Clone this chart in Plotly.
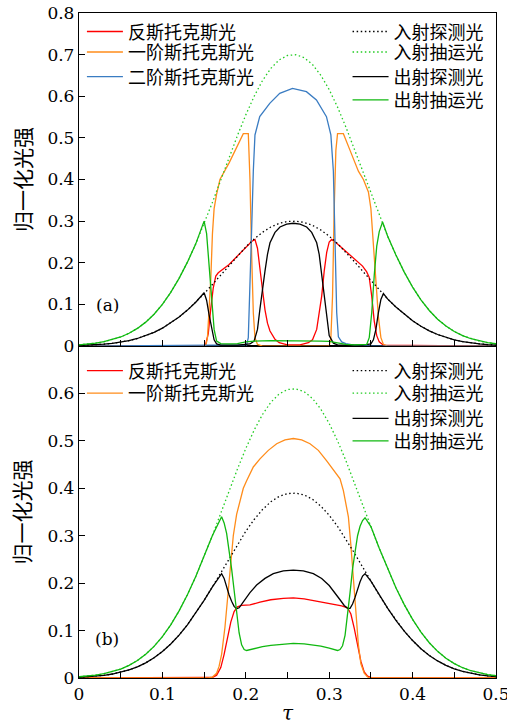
import plotly.graph_objects as go

# ---------------- data ----------------
tau_grid = [0.00, 0.01, 0.02, 0.03, 0.04, 0.05, 0.06, 0.07, 0.08, 0.09,
            0.10, 0.11, 0.12, 0.13, 0.14, 0.15, 0.16, 0.17, 0.18, 0.19,
            0.20, 0.21, 0.22, 0.23, 0.24, 0.25, 0.26, 0.27, 0.28, 0.29,
            0.30, 0.31, 0.32, 0.33, 0.34, 0.35, 0.36, 0.37, 0.38, 0.39,
            0.40, 0.41, 0.42, 0.43, 0.44, 0.45, 0.46, 0.47, 0.48, 0.49, 0.50]

# panel (a) incident pulses
probe_in_a = [0.0013, 0.0020, 0.0030, 0.0044, 0.0065, 0.0093, 0.0131, 0.0181, 0.0246, 0.0328,
              0.0429, 0.0552, 0.0696, 0.0863, 0.1052, 0.1258, 0.1479, 0.1709, 0.1941, 0.2167,
              0.2380, 0.2571, 0.2732, 0.2859, 0.2946, 0.2992, 0.2999, 0.2969, 0.2899, 0.2787,
              0.2639, 0.2459, 0.2255, 0.2033, 0.1802, 0.1571, 0.1345, 0.1132, 0.0936, 0.0761,
              0.0607, 0.0476, 0.0366, 0.0277, 0.0205, 0.0149, 0.0107, 0.0075, 0.0052, 0.0035, 0.0023]
pump_in_a = [0.0029, 0.0046, 0.0069, 0.0103, 0.0151, 0.0217, 0.0306, 0.0423, 0.0574, 0.0765,
             0.1002, 0.1288, 0.1625, 0.2015, 0.2454, 0.2936, 0.3451, 0.3988, 0.4529, 0.5057,
             0.5553, 0.5998, 0.6376, 0.6670, 0.6873, 0.6980, 0.6997, 0.6928, 0.6763, 0.6504,
             0.6159, 0.5739, 0.5261, 0.4743, 0.4205, 0.3665, 0.3139, 0.2642, 0.2185, 0.1775,
             0.1417, 0.1110, 0.0854, 0.0645, 0.0479, 0.0349, 0.0249, 0.0175, 0.0120, 0.0081, 0.0054]

# panel (a) outputs
tau_pump_out_a = [0.00, 0.01, 0.02, 0.03, 0.04, 0.05, 0.06, 0.07, 0.08, 0.09, 0.10, 0.11, 0.12, 0.13, 0.14, 0.15,
                  0.153, 0.156, 0.159, 0.162, 0.165, 0.17, 0.18, 0.19, 0.20, 0.21, 0.23, 0.25, 0.27, 0.29,
                  0.30, 0.31, 0.32, 0.33, 0.345, 0.348, 0.351, 0.354, 0.357, 0.360, 0.364,
                  0.37, 0.38, 0.39, 0.40, 0.41, 0.42, 0.43, 0.44, 0.45, 0.46, 0.47, 0.48, 0.49, 0.50]
pump_out_a = [0.0029, 0.0046, 0.0069, 0.0103, 0.0151, 0.0217, 0.0306, 0.0423, 0.0574, 0.0765, 0.1002, 0.1288, 0.1625, 0.2015, 0.2454, 0.300,
              0.27, 0.20, 0.11, 0.04, 0.012, 0.006, 0.005, 0.006, 0.010, 0.012, 0.013, 0.013, 0.013, 0.012,
              0.011, 0.007, 0.004, 0.003, 0.004, 0.02, 0.08, 0.17, 0.24, 0.275, 0.298,
              0.2642, 0.2185, 0.1775, 0.1417, 0.1110, 0.0854, 0.0645, 0.0479, 0.0349, 0.0249, 0.0175, 0.0120, 0.0081, 0.0054]

tau_probe_out_a = [0.00, 0.01, 0.02, 0.03, 0.04, 0.05, 0.06, 0.07, 0.08, 0.09, 0.10, 0.11, 0.12, 0.13, 0.14, 0.15,
                   0.153, 0.156, 0.159, 0.162, 0.165, 0.17, 0.19, 0.20, 0.205, 0.21, 0.214, 0.217, 0.220, 0.223,
                   0.226, 0.229, 0.235, 0.241, 0.249, 0.257, 0.265, 0.273, 0.279, 0.285, 0.288, 0.291, 0.294,
                   0.297, 0.300, 0.305, 0.31, 0.34, 0.35, 0.353, 0.356, 0.359, 0.362, 0.365,
                   0.37, 0.38, 0.39, 0.40, 0.41, 0.42, 0.43, 0.44, 0.45, 0.46, 0.47, 0.48, 0.49, 0.50]
probe_out_a = [0.0013, 0.0020, 0.0030, 0.0044, 0.0065, 0.0093, 0.0131, 0.0181, 0.0246, 0.0328, 0.0429, 0.0552, 0.0696, 0.0863, 0.1052, 0.128,
               0.11, 0.075, 0.04, 0.015, 0.005, 0.002, 0.002, 0.003, 0.005, 0.012, 0.04, 0.09, 0.14, 0.18,
               0.22, 0.248, 0.273, 0.286, 0.293, 0.295, 0.293, 0.286, 0.273, 0.248, 0.22, 0.17, 0.11,
               0.06, 0.025, 0.007, 0.003, 0.002, 0.005, 0.015, 0.04, 0.08, 0.112, 0.126,
               0.1132, 0.0936, 0.0761, 0.0607, 0.0476, 0.0366, 0.0277, 0.0205, 0.0149, 0.0107, 0.0075, 0.0052, 0.0035, 0.0023]

tau_as_a = [0.0, 0.15, 0.152, 0.155, 0.158, 0.161, 0.164, 0.167, 0.18, 0.19, 0.20, 0.207, 0.211, 0.214,
            0.217, 0.220, 0.223, 0.226, 0.229, 0.235, 0.24, 0.25, 0.265, 0.275, 0.28, 0.285, 0.288,
            0.291, 0.294, 0.297, 0.300, 0.303, 0.31, 0.32, 0.33, 0.34, 0.345, 0.348, 0.351, 0.354,
            0.357, 0.36, 0.365, 0.5]
as_a = [0.0, 0.0, 0.005, 0.03, 0.09, 0.14, 0.168, 0.176, 0.196, 0.217, 0.237, 0.251, 0.256, 0.235,
        0.185, 0.13, 0.087, 0.055, 0.036, 0.016, 0.008, 0.003, 0.003, 0.008, 0.015, 0.04, 0.075,
        0.12, 0.18, 0.225, 0.250, 0.256, 0.245, 0.227, 0.21, 0.192, 0.178, 0.165, 0.12, 0.06,
        0.025, 0.01, 0.002, 0.0]

tau_s1_a = [0.0, 0.152, 0.154, 0.156, 0.158, 0.160, 0.162, 0.165, 0.169, 0.18, 0.19, 0.197, 0.203,
            0.205, 0.207, 0.209, 0.211, 0.214, 0.22, 0.30, 0.302, 0.304, 0.306, 0.308, 0.310, 0.317,
            0.325, 0.335, 0.341, 0.347, 0.350, 0.353, 0.356, 0.359, 0.362, 0.365, 0.37, 0.5]
s1_a = [0.0, 0.0, 0.02, 0.08, 0.16, 0.27, 0.33, 0.365, 0.40, 0.44, 0.48, 0.51, 0.51,
        0.40, 0.22, 0.08, 0.02, 0.004, 0.0, 0.0, 0.02, 0.12, 0.33, 0.47, 0.51, 0.51,
        0.47, 0.42, 0.40, 0.37, 0.33, 0.25, 0.16, 0.07, 0.02, 0.004, 0.0, 0.0]

tau_s2_a = [0.0, 0.201, 0.203, 0.205, 0.207, 0.209, 0.211, 0.2167, 0.2287, 0.2407, 0.256, 0.2727,
            0.2847, 0.2967, 0.302, 0.305, 0.307, 0.309, 0.311, 0.315, 0.32, 0.33, 0.35, 0.5]
s2_a = [0.0, 0.003, 0.02, 0.13, 0.28, 0.42, 0.507, 0.551, 0.583, 0.607, 0.619, 0.611,
        0.591, 0.551, 0.507, 0.42, 0.25, 0.08, 0.022, 0.01, 0.006, 0.002, 0.0, 0.0]

# panel (b) incident pulses
probe_in_b = [0.0016, 0.0025, 0.0039, 0.0057, 0.0084, 0.0121, 0.0170, 0.0236, 0.0320, 0.0426,
              0.0558, 0.0718, 0.0905, 0.1122, 0.1367, 0.1636, 0.1923, 0.2222, 0.2523, 0.2817,
              0.3094, 0.3342, 0.3552, 0.3716, 0.3829, 0.3889, 0.3898, 0.3860, 0.3768, 0.3623,
              0.3431, 0.3197, 0.2931, 0.2642, 0.2343, 0.2042, 0.1749, 0.1472, 0.1217, 0.0989,
              0.0789, 0.0618, 0.0476, 0.0360, 0.0267, 0.0194, 0.0139, 0.0098, 0.0067, 0.0045, 0.0030]
pump_in_b = [0.0026, 0.0040, 0.0060, 0.0090, 0.0132, 0.0189, 0.0267, 0.0368, 0.0500, 0.0667,
             0.0873, 0.1122, 0.1416, 0.1756, 0.2138, 0.2558, 0.3007, 0.3475, 0.3947, 0.4407,
             0.4839, 0.5227, 0.5556, 0.5813, 0.5990, 0.6083, 0.6097, 0.6037, 0.5894, 0.5668,
             0.5367, 0.5001, 0.4584, 0.4133, 0.3664, 0.3193, 0.2735, 0.2302, 0.1904, 0.1547,
             0.1235, 0.0967, 0.0744, 0.0562, 0.0417, 0.0304, 0.0217, 0.0153, 0.0105, 0.0071, 0.0047]

# panel (b) outputs
tau_pump_out_b = [0.00, 0.01, 0.02, 0.03, 0.04, 0.05, 0.06, 0.07, 0.08, 0.09, 0.10, 0.11, 0.12, 0.13, 0.14, 0.15, 0.16,
                  0.171, 0.174, 0.177, 0.180, 0.183, 0.186, 0.189, 0.192, 0.195, 0.198, 0.201, 0.21, 0.22,
                  0.23, 0.24, 0.257, 0.27, 0.28, 0.29, 0.30, 0.31, 0.313, 0.316, 0.319, 0.322, 0.325, 0.328,
                  0.331, 0.334, 0.337, 0.340, 0.343,
                  0.35, 0.36, 0.37, 0.38, 0.39, 0.40, 0.41, 0.42, 0.43, 0.44, 0.45, 0.46, 0.47, 0.48, 0.49, 0.50]
pump_out_b = [0.0026, 0.0040, 0.0060, 0.0090, 0.0132, 0.0189, 0.0267, 0.0368, 0.0500, 0.0667, 0.0873, 0.1122, 0.1416, 0.1756, 0.2138, 0.2558, 0.3007,
              0.340, 0.327, 0.305, 0.27, 0.23, 0.185, 0.14, 0.095, 0.07, 0.06, 0.058, 0.062, 0.066,
              0.069, 0.071, 0.073, 0.072, 0.070, 0.067, 0.063, 0.058, 0.060, 0.068, 0.09, 0.13, 0.18, 0.23,
              0.27, 0.30, 0.32, 0.332, 0.338,
              0.3193, 0.2735, 0.2302, 0.1904, 0.1547, 0.1235, 0.0967, 0.0744, 0.0562, 0.0417, 0.0304, 0.0217, 0.0153, 0.0105, 0.0071, 0.0047]

tau_probe_out_b = [0.00, 0.01, 0.02, 0.03, 0.04, 0.05, 0.06, 0.07, 0.08, 0.09, 0.10, 0.11, 0.12, 0.13, 0.14, 0.15, 0.16,
                   0.171, 0.174, 0.177, 0.180, 0.183, 0.186, 0.189, 0.192, 0.196, 0.20, 0.205, 0.213, 0.223,
                   0.233, 0.245, 0.257, 0.269, 0.281, 0.291, 0.300, 0.307, 0.313, 0.318, 0.322, 0.325, 0.328,
                   0.331, 0.334, 0.337, 0.340, 0.343,
                   0.35, 0.36, 0.37, 0.38, 0.39, 0.40, 0.41, 0.42, 0.43, 0.44, 0.45, 0.46, 0.47, 0.48, 0.49, 0.50]
probe_out_b = [0.0016, 0.0025, 0.0039, 0.0057, 0.0084, 0.0121, 0.0170, 0.0236, 0.0320, 0.0426, 0.0558, 0.0718, 0.0905, 0.1122, 0.1367, 0.1636, 0.1923,
               0.220, 0.21, 0.192, 0.175, 0.162, 0.151, 0.146, 0.148, 0.158, 0.169, 0.18, 0.196, 0.21,
               0.22, 0.226, 0.2275, 0.226, 0.22, 0.21, 0.195, 0.18, 0.165, 0.153, 0.147, 0.147, 0.156,
               0.17, 0.187, 0.203, 0.215, 0.220,
               0.2042, 0.1749, 0.1472, 0.1217, 0.0989, 0.0789, 0.0618, 0.0476, 0.0360, 0.0267, 0.0194, 0.0139, 0.0098, 0.0067, 0.0045, 0.0030]

tau_as_b = [0.0, 0.155, 0.16, 0.165, 0.170, 0.174, 0.178, 0.182, 0.186, 0.190, 0.195, 0.205, 0.217,
            0.23, 0.245, 0.257, 0.27, 0.285, 0.30, 0.315, 0.322, 0.326, 0.330, 0.334, 0.338, 0.342,
            0.346, 0.352, 0.5]
as_b = [0.0, 0.0, 0.001, 0.006, 0.022, 0.05, 0.085, 0.118, 0.14, 0.15, 0.153, 0.154, 0.16,
        0.165, 0.168, 0.169, 0.167, 0.162, 0.157, 0.152, 0.148, 0.135, 0.105, 0.07, 0.035, 0.013,
        0.004, 0.0, 0.0]

tau_s1_b = [0.0, 0.155, 0.160, 0.165, 0.168, 0.171, 0.175, 0.178, 0.181, 0.185, 0.189, 0.193, 0.197,
            0.201, 0.209, 0.217, 0.227, 0.237, 0.247, 0.257, 0.267, 0.277, 0.287, 0.297, 0.305, 0.313,
            0.317, 0.320, 0.323, 0.326, 0.329, 0.332, 0.335, 0.338, 0.342, 0.346, 0.35, 0.5]
s1_b = [0.0, 0.0, 0.002, 0.01, 0.025, 0.05, 0.107, 0.17, 0.233, 0.30, 0.345, 0.375, 0.40,
        0.416, 0.445, 0.462, 0.48, 0.494, 0.502, 0.505, 0.502, 0.494, 0.48, 0.458, 0.44, 0.42,
        0.395, 0.37, 0.34, 0.28, 0.21, 0.13, 0.07, 0.03, 0.01, 0.002, 0.0, 0.0]

y_ticks_a = [0, 0.1, 0.2, 0.3, 0.4, 0.5, 0.6, 0.7, 0.8]
y_ticks_b = [0, 0.1, 0.2, 0.3, 0.4, 0.5, 0.6]
x_ticks = [0, 0.1, 0.2, 0.3, 0.4, 0.5]
x_minor_ticks = [0.05, 0.15, 0.25, 0.35, 0.45]

names_left = ["反斯托克斯光", "一阶斯托克斯光", "二阶斯托克斯光"]
names_right = ["入射探测光", "入射抽运光", "出射探测光", "出射抽运光"]

# ---------------- styles ----------------
RED = "#ff0000"
ORANGE = "#ff8c1a"
BLUE = "#3a7cc2"
GREEN = "#10b810"
GREEN_DOT = "#22cc22"
BLACK = "#000000"
LW = 1.3
DOT = "1.5px,2.6px"
CJK = "Noto Sans CJK SC"
NUM_FONT = dict(family="DejaVu Serif", size=17, color="black")

split = 0.4992
# legend slot centres (paper fraction), one legend box per entry
left_x, right_x = 0.007, 0.644
rows_a = [0.9717, 0.9409, 0.9040, 0.8690]
rows_b = [0.4617, 0.4278, 0.3900, 0.3560]

fig = go.Figure()
legend_layout = {}
leg_common = dict(bgcolor="rgba(0,0,0,0)", borderwidth=0, itemwidth=36,
                  font=dict(family=CJK, size=18, color="black"),
                  xanchor="left", yanchor="middle",
                  itemclick=False, itemdoubleclick=False)
counter = [0]


def add(x, y, name, color, dash, xa, ya, lx, ly):
    counter[0] += 1
    key = "legend" if counter[0] == 1 else "legend%d" % counter[0]
    legend_layout[key] = dict(x=lx, y=ly, **leg_common)
    fig.add_trace(go.Scatter(
        x=x, y=y, name=name, mode="lines",
        line=dict(color=color, width=LW, dash=dash),
        xaxis=xa, yaxis=ya, legend=key, showlegend=True,
        hoverinfo="skip"))


# panel (a) -> xaxis2 / yaxis2
add(tau_as_a, as_a, names_left[0], RED, "solid", "x2", "y2", left_x, rows_a[0])
add(tau_s1_a, s1_a, names_left[1], ORANGE, "solid", "x2", "y2", left_x, rows_a[1])
add(tau_s2_a, s2_a, names_left[2], BLUE, "solid", "x2", "y2", left_x, rows_a[2])
add(tau_grid, probe_in_a, names_right[0], BLACK, DOT, "x2", "y2", right_x, rows_a[0])
add(tau_grid, pump_in_a, names_right[1], GREEN_DOT, DOT, "x2", "y2", right_x, rows_a[1])
add(tau_probe_out_a, probe_out_a, names_right[2], BLACK, "solid", "x2", "y2", right_x, rows_a[2])
add(tau_pump_out_a, pump_out_a, names_right[3], GREEN, "solid", "x2", "y2", right_x, rows_a[3])

# panel (b) -> xaxis / yaxis
add(tau_as_b, as_b, names_left[0], RED, "solid", "x", "y", left_x, rows_b[0])
add(tau_s1_b, s1_b, names_left[1], ORANGE, "solid", "x", "y", left_x, rows_b[1])
add(tau_grid, probe_in_b, names_right[0], BLACK, DOT, "x", "y", right_x, rows_b[0])
add(tau_grid, pump_in_b, names_right[1], GREEN_DOT, DOT, "x", "y", right_x, rows_b[1])
add(tau_probe_out_b, probe_out_b, names_right[2], BLACK, "solid", "x", "y", right_x, rows_b[2])
add(tau_pump_out_b, pump_out_b, names_right[3], GREEN, "solid", "x", "y", right_x, rows_b[3])

common_x = dict(range=[0, 0.5], ticks="inside", ticklen=6, automargin=False,
                tickwidth=1.2, tickcolor="black", showline=True, linecolor="black",
                linewidth=1.3, mirror=True, showgrid=False, zeroline=False,
                tickvals=x_ticks, ticktext=[str(v) for v in x_ticks],
                ticklabeloverflow="allow",
                minor=dict(tickvals=x_minor_ticks, ticks="inside", ticklen=6, tickwidth=1.2,
                           tickcolor="black", showgrid=False),
                tickfont=NUM_FONT)
common_y = dict(ticks="inside", ticklen=6, tickwidth=1.2, tickcolor="black", automargin=False,
                showline=True, linecolor="black", linewidth=1.3, mirror=True,
                showgrid=False, zeroline=False, tickfont=NUM_FONT)

fig.update_layout(
    template="none",
    width=507, height=727,
    margin=dict(l=79, r=11, t=13, b=49, autoexpand=False),
    paper_bgcolor="white", plot_bgcolor="white",
    xaxis=dict(domain=[0, 1], anchor="y", **common_x),
    xaxis2=dict(domain=[0, 1], anchor="y2", matches="x", showticklabels=False, **common_x),
    yaxis=dict(domain=[0, split], anchor="x", range=[0, 0.7], tickvals=y_ticks_b,
               ticktext=[str(v) for v in y_ticks_b], **common_y),
    yaxis2=dict(domain=[split, 1], anchor="x2", range=[0, 0.8], tickvals=y_ticks_a,
                ticktext=[str(v) for v in y_ticks_a], **common_y),
    showlegend=True,
    **legend_layout,
)

annotations = [
    dict(text="(a)", x=0.034, y=0.098, xref="x2", yref="y2", showarrow=False,
         font=dict(family="DejaVu Serif", size=17, color="black")),
    dict(text="(b)", x=0.034, y=0.083, xref="x", yref="y", showarrow=False,
         font=dict(family="DejaVu Serif", size=17, color="black")),
    dict(text="归一化光强", x=-0.138, y=(1 + split) / 2, xref="paper", yref="paper",
         xanchor="center", yanchor="middle",
         showarrow=False, textangle=-90, font=dict(family=CJK, size=21, color="black")),
    dict(text="归一化光强", x=-0.138, y=split / 2, xref="paper", yref="paper",
         xanchor="center", yanchor="middle",
         showarrow=False, textangle=-90, font=dict(family=CJK, size=21, color="black")),
    dict(text="<i>τ</i>", x=0.25, y=-0.0737, xref="x", yref="paper", showarrow=False,
         xanchor="center", yanchor="bottom",
         font=dict(family="DejaVu Serif", size=20, color="black")),
]
fig.update_layout(annotations=annotations)

fig.write_html("out.html", config={"displayModeBar": False},
               post_script="document.body.style.margin='0';")
